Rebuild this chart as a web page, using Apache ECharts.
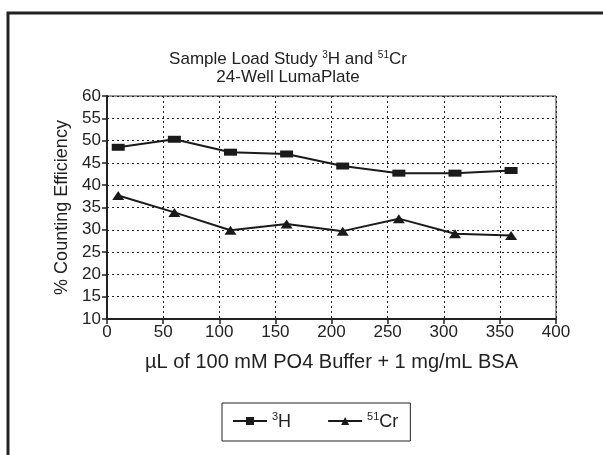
<!DOCTYPE html>
<html>
<head>
<meta charset="utf-8">
<script src="https://cdn.jsdelivr.net/npm/echarts@6/dist/echarts.min.js"></script>
<style>
html, body { margin: 0; padding: 0; background: #fff; }
#main { width: 603px; height: 455px; }
</style>
</head>
<body>
<div id="main"></div>
<script>
// 样品体积 (µL)
var volumes = [10, 60, 110, 160, 210, 260, 310, 360];
// 计数效率 %
var h3 = [48.5, 50.3, 47.4, 47.0, 44.3, 42.7, 42.7, 43.3];
var cr51 = [37.7, 33.9, 29.9, 31.3, 29.7, 32.5, 29.1, 28.7];

function pairs(xs, ys) {
	return xs.map(function (x, i) { return [x, ys[i]]; });
}

var font = 'Liberation Sans, Arial, sans-serif';
var myChart = echarts.init(document.getElementById('main'));

myChart.setOption({
	backgroundColor : '#fff',
	animation : false,
	textStyle : { fontFamily : font, color : '#222' },
	title : {
		text : '{n|Sample Load Study }{s|3}{n|H and }{s|51}{n|Cr}\n{n|24-Well LumaPlate}',
		left : 283,
		textAlign : 'center',
		top : 45,
		textStyle : {
			fontWeight : 'normal',
			rich : {
				n : { fontSize : 17, fontFamily : font, fontWeight : 'normal', color : '#222', lineHeight : 18, verticalAlign : 'bottom' },
				s : { fontSize : 10, fontFamily : font, fontWeight : 'normal', color : '#222', lineHeight : 18, verticalAlign : 'top', padding : [0, 0, 12, 0] }
			}
		}
	},
	graphic : [ {
		type : 'rect',
		shape : { x : 8, y : 13, width : 700, height : 600 },
		style : { fill : 'none', stroke : '#222', lineWidth : 3 },
		silent : true
	} ],
	legend : {
		left : 222,
		top : 403,
		itemWidth : 34,
		itemHeight : 10,
		itemGap : 36,
		padding : [8, 12, 7, 10],
		borderColor : '#222',
		borderWidth : 1,
		data : [ 'H3', 'Cr51' ],
		formatter : function (name) {
			return name === 'H3' ? '{s|3}{n|H}' : '{s|51}{n|Cr}';
		},
		textStyle : {
			rich : {
				n : { fontSize : 18, fontFamily : font, color : '#222', lineHeight : 20, verticalAlign : 'bottom' },
				s : { fontSize : 11, fontFamily : font, color : '#222', lineHeight : 20, verticalAlign : 'top', padding : [0, 0, 12, 0] }
			}
		}
	},
	grid : {
		left : 107,
		top : 96,
		width : 449,
		height : 223,
		show : true,
		borderColor : '#333',
		borderWidth : 1,
		backgroundColor : 'transparent'
	},
	xAxis : {
		type : 'value',
		min : 0,
		max : 400,
		interval : 50,
		name : 'µL of 100 mM PO4 Buffer + 1 mg/mL BSA',
		nameLocation : 'middle',
		nameGap : 33,
		nameTextStyle : { fontSize : 20, fontFamily : font, color : '#222', width : 400, overflow : 'none' },
		axisLine : { show : true, lineStyle : { color : '#222', width : 2 } },
		axisTick : { show : true, length : 5, lineStyle : { color : '#222', width : 1.5 } },
		axisLabel : { fontSize : 17, fontFamily : font, color : '#222', margin : 5 },
		splitLine : { show : true, lineStyle : { color : '#222', type : [2, 3], width : 1 } }
	},
	yAxis : {
		type : 'value',
		min : 10,
		max : 60,
		interval : 5,
		name : '% Counting Efficiency',
		nameLocation : 'middle',
		nameGap : 35,
		nameTextStyle : { fontSize : 18, fontFamily : font, color : '#222' },
		axisLine : { show : true, lineStyle : { color : '#222', width : 2 } },
		axisTick : { show : true, length : 5, lineStyle : { color : '#222', width : 1.5 } },
		axisLabel : { fontSize : 17, fontFamily : font, color : '#222', margin : 6 },
		splitLine : { show : true, lineStyle : { color : '#222', type : [2, 3], width : 1 } }
	},
	series : [ {
		name : 'H3',
		type : 'line',
		data : pairs(volumes, h3),
		symbol : 'rect',
		symbolSize : [13, 7],
		itemStyle : { color : '#1a1a1a' },
		lineStyle : { color : '#1a1a1a', width : 2 }
	}, {
		name : 'Cr51',
		type : 'line',
		data : pairs(volumes, cr51),
		symbol : 'triangle',
		symbolSize : [12, 9],
		itemStyle : { color : '#1a1a1a' },
		lineStyle : { color : '#1a1a1a', width : 2 }
	} ]
});
</script>
</body>
</html>
